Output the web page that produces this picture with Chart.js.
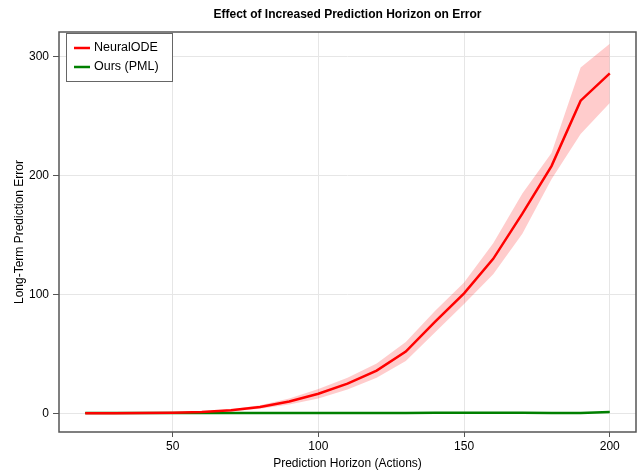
<!DOCTYPE html>
<html>
<head>
<meta charset="utf-8">
<script src="https://cdn.jsdelivr.net/npm/chart.js@4/dist/chart.umd.min.js"></script>
<style>
  html, body { margin: 0; padding: 0; background: #fff; }
  #wrap { width: 641px; height: 473px; }
</style>
</head>
<body>
<div id="wrap"><canvas id="chart" width="641" height="473"></canvas></div>
<script>
// Prediction horizon (actions)
const horizons = [20, 30, 40, 50, 60, 70, 80, 90, 100, 110, 120, 130, 140, 150, 160, 170, 180, 190, 200];

// NeuralODE: mean error and spread
const nodeMean = [0, 0.05, 0.2, 0.5, 1.2, 2.5, 5.4, 10, 16.5, 25, 36, 52, 77, 101, 130, 168, 208, 263, 286];
const nodeSpread = [0, 0, 0.1, 0.2, 0.5, 1, 1.5, 2.5, 4, 5, 6, 8, 9, 9, 13, 17, 11, 28, 25];

// Ours (PML)
const pmlMean = [0.2, 0.2, 0.2, 0.3, 0.3, 0.3, 0.3, 0.3, 0.3, 0.3, 0.3, 0.3, 0.4, 0.4, 0.4, 0.4, 0.3, 0.2, 1.2];
const pmlSpread = [0.1, 0.1, 0.1, 0.1, 0.1, 0.1, 0.1, 0.1, 0.1, 0.1, 0.1, 0.1, 0.1, 0.1, 0.1, 0.1, 0.1, 0.1, 0.3];

const xTicks = [50, 100, 150, 200];
const yTicks = [0, 100, 200, 300];

const FONT = '"Liberation Sans", Arial, sans-serif';

const pts = (vals) => horizons.map((x, i) => ({ x: x, y: vals[i] }));
const upper = (m, s) => m.map((v, i) => v + s[i]);
const lower = (m, s) => m.map((v, i) => v - s[i]);

// рамка, заголовок і легенда всередині області графіка
const framePlugin = {
  id: 'frame',
  afterDraw(chart) {
    const { ctx, chartArea: a } = chart;
    ctx.save();
    ctx.strokeStyle = '#555';
    ctx.lineWidth = 1.5;
    ctx.strokeRect(a.left, a.top, a.right - a.left, a.bottom - a.top);

    // title
    ctx.fillStyle = '#000';
    ctx.font = 'bold 12px ' + FONT;
    ctx.textAlign = 'center';
    ctx.textBaseline = 'middle';
    ctx.fillText('Effect of Increased Prediction Horizon on Error', (a.left + a.right) / 2, 15);

    // legend
    const lx = a.left + 7, ly = a.top + 1, lw = 106, lh = 48;
    ctx.fillStyle = '#fff';
    ctx.fillRect(lx, ly, lw, lh);
    ctx.strokeStyle = '#666';
    ctx.lineWidth = 1;
    ctx.strokeRect(lx + 0.5, ly + 0.5, lw, lh);
    const items = [['NeuralODE', '#ff0000'], ['Ours (PML)', '#008000']];
    ctx.font = '12.5px ' + FONT;
    ctx.textAlign = 'left';
    items.forEach((it, i) => {
      const yy = ly + 15 + i * 19;
      ctx.strokeStyle = it[1];
      ctx.lineWidth = 2.5;
      ctx.beginPath();
      ctx.moveTo(lx + 8, yy);
      ctx.lineTo(lx + 24, yy);
      ctx.stroke();
      ctx.fillStyle = '#000';
      ctx.fillText(it[0], lx + 28, yy);
    });
    ctx.restore();
  }
};

new Chart(document.getElementById('chart'), {
  type: 'line',
  data: {
    datasets: [
      {
        label: 'NeuralODE upper',
        data: pts(upper(nodeMean, nodeSpread)),
        borderWidth: 0,
        pointRadius: 0,
        backgroundColor: 'rgba(255,0,0,0.2)',
        fill: '+1'
      },
      {
        label: 'NeuralODE lower',
        data: pts(lower(nodeMean, nodeSpread)),
        borderWidth: 0,
        pointRadius: 0,
        fill: false
      },
      {
        label: 'Ours upper',
        data: pts(upper(pmlMean, pmlSpread)),
        borderWidth: 0,
        pointRadius: 0,
        backgroundColor: 'rgba(0,128,0,0.2)',
        fill: '+1'
      },
      {
        label: 'Ours lower',
        data: pts(lower(pmlMean, pmlSpread)),
        borderWidth: 0,
        pointRadius: 0,
        fill: false
      },
      {
        label: 'NeuralODE',
        data: pts(nodeMean),
        borderColor: '#ff0000',
        borderWidth: 2.5,
        pointRadius: 0,
        fill: false
      },
      {
        label: 'Ours (PML)',
        data: pts(pmlMean),
        borderColor: '#008000',
        borderWidth: 2.5,
        pointRadius: 0,
        fill: false
      }
    ]
  },
  options: {
    responsive: false,
    animation: false,
    layout: { padding: { top: 32, right: 5, left: 0, bottom: 0 } },
    plugins: {
      legend: { display: false },
      title: { display: false },
      tooltip: { enabled: false }
    },
    scales: {
      x: {
        type: 'linear',
        min: 11,
        max: 209,
        afterBuildTicks: (s) => { s.ticks = xTicks.map(v => ({ value: v })); },
        afterFit: (s) => { s.height = 41; },
        grid: { color: '#e6e6e6', tickColor: '#555', tickLength: 5 },
        border: { display: false },
        ticks: { color: '#000', font: { family: FONT, size: 12 }, padding: 2, maxRotation: 0 },
        title: {
          display: true,
          text: 'Prediction Horizon (Actions)',
          color: '#000',
          font: { family: FONT, size: 12 },
          padding: { top: 0, bottom: 2 }
        }
      },
      y: {
        min: -15.7,
        max: 320.8,
        afterBuildTicks: (s) => { s.ticks = yTicks.map(v => ({ value: v })); },
        afterFit: (s) => { s.width = 59; },
        grid: { color: '#e6e6e6', tickColor: '#555', tickLength: 6 },
        border: { display: false },
        ticks: { color: '#000', font: { family: FONT, size: 12 }, padding: 4 },
        title: {
          display: true,
          text: 'Long-Term Prediction Error',
          color: '#000',
          font: { family: FONT, size: 12 },
          padding: { top: 12, bottom: 0 }
        }
      }
    }
  },
  plugins: [framePlugin]
});
</script>
</body>
</html>
